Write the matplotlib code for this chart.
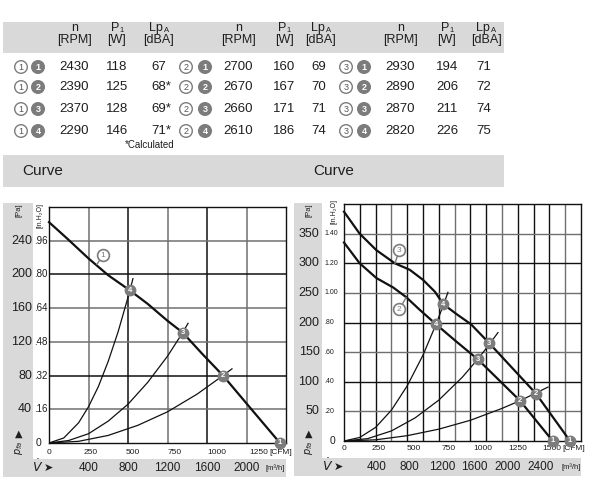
import matplotlib
matplotlib.use('Agg')
import numpy as np
import matplotlib.pyplot as plt
from matplotlib.patches import Rectangle, Circle
import matplotlib.transforms as mtransforms

FONT = ['Liberation Sans Narrow', 'Liberation Sans', 'DejaVu Sans']
plt.rcParams['font.family'] = FONT

# ---------------- table data ----------------
rpm_1 = [2430, 2390, 2370, 2290]
p1_1 = [118, 125, 128, 146]
lpa_1 = ['67', '68*', '69*', '71*']
rpm_2 = [2700, 2670, 2660, 2610]
p1_2 = [160, 167, 171, 186]
lpa_2 = ['69', '70', '71', '74']
rpm_3 = [2930, 2890, 2870, 2820]
p1_3 = [194, 206, 211, 226]
lpa_3 = ['71', '72', '74', '75']

# ---------------- left chart data (m3/h, Pa) ----------------
fanL_V = [0, 180, 400, 600, 820, 1000, 1200, 1354, 1550, 1762, 2050, 2339]
fanL_p = [262, 243, 219, 199, 181, 165, 145, 131, 106, 80, 40, 0]
sysL4_V = [0, 150, 300, 400, 500, 600, 700, 820, 850]
sysL4_p = [0, 6, 24, 43, 67, 97, 132, 181, 195]
sysL3_V = [0, 200, 400, 600, 800, 1000, 1200, 1354, 1408]
sysL3_p = [0, 3, 11, 26, 46, 72, 103, 131, 142]
sysL2_V = [0, 300, 600, 900, 1200, 1500, 1762, 1853]
sysL2_p = [0, 2, 9, 21, 37, 58, 80, 88]
ptsL_V = [2339, 1762, 1354, 820]
ptsL_p = [0, 80, 131, 181]

# ---------------- right chart data (m3/h, Pa) ----------------
fan3_V = [0, 191, 397, 621, 804, 967, 1112, 1215, 1379, 1554, 1778, 2349, 2766]
fan3_p = [387, 350, 322, 300, 289, 272, 252, 231, 214, 197, 165, 80, 0]
fan2_V = [0, 191, 397, 603, 759, 930, 1126, 1373, 1636, 2154, 2554]
fan2_p = [335, 300, 275, 259, 243, 221, 197, 168, 138, 68, 0]
sysR4_V = [0, 193, 387, 580, 773, 967, 1126, 1215, 1272]
sysR4_p = [0, 6, 23, 52, 93, 145, 197, 229, 251]
sysR3_V = [0, 290, 580, 870, 1160, 1450, 1636, 1778, 1884]
sysR3_p = [0, 4, 17, 39, 69, 108, 138, 163, 183]
sysR2_V = [0, 387, 773, 1160, 1547, 1933, 2154, 2349, 2496]
sysR2_p = [0, 2, 9, 20, 35, 55, 68, 81, 91]
pts3_V = [2766, 2349, 1778, 1215]
pts3_p = [0, 80, 165, 231]
pts2_V = [2554, 2154, 1636, 1126]
pts2_p = [0, 68, 138, 197]

# tick labels
paL = [40, 80, 120, 160, 200, 240]
inL = ['.16', '.32', '.48', '.64', '.80', '.96']
paR = [50, 100, 150, 200, 250, 300, 350]
inR = ['.20', '.40', '.60', '.80', '1.00', '1.20', '1.40']
cfmL = [0, 250, 500, 750, 1000, 1250]
cfmR = [0, 250, 500, 750, 1000, 1250, 1500]
m3hL = [400, 800, 1200, 1600, 2000]
m3hR = [400, 800, 1200, 1600, 2000, 2400]

GRAY = '#d9d9d9'
TXT = '#1e1e1e'
MK = '#7c7c7c'

fig = plt.figure(figsize=(6.03, 5.0), dpi=100)
bg = fig.add_axes([0, 0, 1, 1], zorder=0)
bg.set_xlim(0, 603)
bg.set_ylim(500, 0)
bg.axis('off')


def R(x0, y0, x1, y1, color=GRAY):
    bg.add_patch(Rectangle((x0, y0), x1 - x0, y1 - y0, facecolor=color, lw=0))


def T(x, y, s, size=10, ha='center', va='center', color=TXT, **kw):
    bg.text(x, y, s, fontsize=size, ha=ha, va=va, color=color, **kw)


def open_c(x, y, d):
    bg.add_patch(Circle((x, y), 6.3, facecolor='white', edgecolor=MK, lw=1.0))
    T(x, y + 0.3, str(d), size=6.5, color='#555555')


def fill_c(x, y, d):
    bg.add_patch(Circle((x, y), 6.3, facecolor=MK, edgecolor=MK, lw=1.0))
    T(x, y + 0.3, str(d), size=6.5, color='white', fontweight='bold')


# bands
R(3, 22, 504, 53)
R(3, 155, 504, 187)
R(3, 203, 33, 477)
R(3, 459, 286, 477)
R(294, 203, 322, 476)
R(294, 458, 581, 476)

# table header
groups = [
    (74, 117, 159, rpm_1, p1_1, lpa_1, 21, 38, 1),
    (238, 284, 321, rpm_2, p1_2, lpa_2, 186, 205, 2),
    (400, 447, 486, rpm_3, p1_3, lpa_3, 346, 364, 3),
]
rows_y = [67, 87, 109, 131]
for xn, xp, xl, rr, pp, ll, xo, xf, g in groups:
    T(xn + 1, 28, 'n', size=9)
    T(xn, 40.5, '[RPM]', size=9)
    T(xp - 2, 28, 'P', size=9)
    T(xp + 4.8, 31, '1', size=5.5)
    T(xp, 40.5, '[W]', size=9)
    T(xl - 3, 28, 'Lp', size=9)
    T(xl + 8, 30.5, 'A', size=5.5)
    T(xl, 40.5, '[dBA]', size=9)
    for i, y in enumerate(rows_y):
        open_c(xo, y, g)
        fill_c(xf, y, i + 1)
        T(xn, y, str(rr[i]), size=9.5)
        T(xp, y, str(pp[i]), size=9.5)
        if g == 1:
            T(xl - 8, y, ll[i], size=9.5, ha='left')
        else:
            T(xl - 2, y, ll[i], size=9.5)
T(150, 145, '*Calculated', size=7)
T(22, 171, 'Curve', size=11, ha='left')
T(313, 171, 'Curve', size=11, ha='left')

# ---------------- chart axes ----------------
axL = fig.add_axes([49 / 603, 1 - 443 / 500, 237 / 603, 236 / 500], zorder=2)
axR = fig.add_axes([344 / 603, 1 - 441 / 500, 237 / 603, 237 / 500], zorder=2)
axL.set_xlim(0, 2400); axL.set_ylim(0, 280)
axR.set_xlim(0, 2900); axR.set_ylim(0, 400)
for ax in (axL, axR):
    ax.set_xticks([]); ax.set_yticks([])
    for s in ax.spines.values():
        s.set_color('#111'); s.set_linewidth(1.0)

G1, G2 = '#707070', '#111111'
for v, c in zip([400, 800, 1200, 1600, 2000], [G1, G2, G1, G2, G1]):
    axL.axvline(v, color=c, lw=1.1, zorder=1)
for v, c in zip([40, 80, 120, 160, 200, 240], [G1, G2, G1, G1, G2, G1]):
    axL.axhline(v, color=c, lw=1.1, zorder=1)
gridR = np.linspace(0, 2900, 16)[1:-1]
for i, v in enumerate(gridR, start=1):
    axR.axvline(v, color=G1 if i in (3, 7, 10, 14) else G2, lw=1.0, zorder=1)
for v, c in zip(paR, [G1, G2, G1, G2, G1, G2, G1]):
    axR.axhline(v, color=c, lw=1.0, zorder=1)

# curves
axL.plot(fanL_V, fanL_p, color='#111', lw=1.6, zorder=3, clip_on=False)
for V, p in [(sysL4_V, sysL4_p), (sysL3_V, sysL3_p), (sysL2_V, sysL2_p)]:
    axL.plot(V, p, color='#111', lw=0.9, zorder=3)
axR.plot(fan3_V, fan3_p, color='#111', lw=1.6, zorder=3, clip_on=False)
axR.plot(fan2_V, fan2_p, color='#111', lw=1.6, zorder=3, clip_on=False)
for V, p in [(sysR4_V, sysR4_p), (sysR3_V, sysR3_p), (sysR2_V, sysR2_p)]:
    axR.plot(V, p, color='#111', lw=0.9, zorder=3)


def points(ax, Vs, ps):
    for i, (v, p) in enumerate(zip(Vs, ps)):
        ax.plot(v, p, 'o', ms=7.5, mfc=MK, mec=MK, zorder=5, clip_on=False)
        ax.text(v, p, str(i + 1), color='white', fontsize=5.5, ha='center',
                va='center', fontweight='bold', zorder=6, clip_on=False)


points(axL, ptsL_V, ptsL_p)
points(axR, pts3_V, pts3_p)
points(axR, pts2_V, pts2_p)


def curve_label(ax, cx, cy, lx, ly, d):
    ax.plot([cx, lx], [cy, ly], color=MK, lw=1.0, zorder=4)
    ax.plot(cx, cy, 'o', ms=8.5, mfc='white', mec=MK, mew=1.2, zorder=5)
    ax.text(cx, cy, str(d), color=MK, fontsize=6, ha='center', va='center', zorder=6)


curve_label(axL, 547, 223, 486, 212, 1)
curve_label(axR, 677, 322, 624, 300, 3)
curve_label(axR, 677, 222, 759, 242, 2)

# ---------------- axis labels ----------------
def ylab(ax, pas, ins, x_pa, x_in, in_size, x0, pa_size):
    tr = mtransforms.blended_transform_factory(bg.transData, ax.transData)
    for p, s in zip(pas, ins):
        bg.text(x_pa, p, str(p), transform=tr, fontsize=pa_size, ha='right', va='center', color=TXT)
        bg.text(x_in, p, s, transform=tr, fontsize=in_size, ha='left', va='center', color=TXT)
    bg.text(x0, 0, '0', transform=tr, fontsize=7.5, ha='center', va='center', color=TXT)


ylab(axL, paL, inL, 32, 34.5, 7, 39, 9)
ylab(axR, paR, inR, 319.5, 324, 5, 332, 9)


def xlab(ax, cfm, m3, cfm_y, m3_y, unit_x, cfm_unit_x):
    tr = mtransforms.blended_transform_factory(ax.transData, bg.transData)
    for c in cfm:
        bg.text(c * 1.699, cfm_y, str(c), transform=tr, fontsize=6, ha='center', va='center', color=TXT)
    for m in m3:
        bg.text(m, m3_y, str(m), transform=tr, fontsize=8.5, ha='center', va='center', color=TXT)
    T(unit_x, m3_y + 0.5, '[m³/h]', size=5.5)
    T(cfm_unit_x, cfm_y, '[CFM]', size=6, ha='left')


xlab(axL, cfmL, m3hL, 452, 468, 275, 269.5)
xlab(axR, cfmR, m3hR, 448, 467, 571, 562)

T(19, 210, '[Pa]', size=5.5, rotation=90)
T(40, 216, '[in.H₂O]', size=5, rotation=90)
T(309, 210, '[Pa]', size=5.5, rotation=90)
T(334, 212, '[in.H₂O]', size=5, rotation=90)
for x0 in (19, 309):
    T(x0, 434, '▲', size=7, family=['DejaVu Sans'])
    T(x0, 448, r'$p_{fa}$', size=7, rotation=90)

T(38, 467, r'$\dot{V}$', size=9)
T(48, 467.5, '➤', size=8, family=['DejaVu Sans'])
T(328, 466, r'$\dot{V}$', size=9)
T(338, 466.5, '➤', size=8, family=['DejaVu Sans'])

fig.savefig('out.png', dpi=100)
